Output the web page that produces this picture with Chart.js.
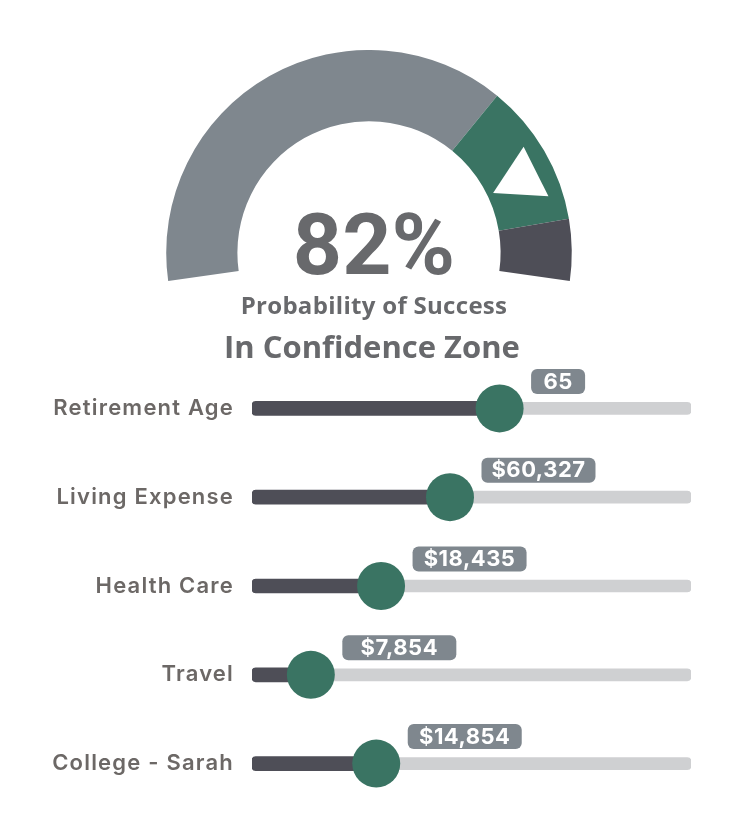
<!DOCTYPE html>
<html>
<head>
<meta charset="utf-8">
<title>Probability of Success</title>
<script src="https://cdn.jsdelivr.net/npm/chart.js@4"></script>
<style>
  html, body { margin: 0; background: #fff; }
  #page { position: relative; width: 742px; height: 837px; overflow: hidden; }
  canvas { position: absolute; }
  .gauge-chart { left: 0; top: 50px; }
  .slider-chart { left: 0; top: 364px; }
  .caption {
    position: absolute; left: 0; width: 742px; text-align: center;
    font-family: 'Open Sans', sans-serif; font-weight: 700; color: #68696c; white-space: nowrap;
  }
  #percent { left: 3px; top: 187px; font-family: Roboto, sans-serif; font-size: 86px; line-height: 116px; }
  #subtitle { left: 3px; top: 288px; font-size: 24px; line-height: 34px; letter-spacing: 0.3px; }
  #zone { left: 1px; top: 325px; font-size: 31px; line-height: 42px; }
</style>
</head>
<body>
<div id="page">
  <canvas class="gauge-chart" width="738" height="231"></canvas>
  <canvas class="slider-chart" width="742" height="444"></canvas>
  <div class="caption" id="percent"></div>
  <div class="caption" id="subtitle"></div>
  <div class="caption" id="zone"></div>
</div>
<script>
// gauge, in percent of the sweep
const zoneNames = ['Below', 'In Confidence Zone', 'Above'];
const zoneShares = [70, 21, 9];
const zoneColors = ['#7f878e', '#3a7463', '#4e4e57'];
const probability = 82;
const pointerAt = 82.7;

// sliders, position in percent of the track
const sliderNames = ['Retirement Age', 'Living Expense', 'Health Care', 'Travel', 'College - Sarah'];
const sliderPositions = [56.4, 45.1, 29.4, 13.4, 28.3];
const sliderLabels = ['65', '$60,327', '$18,435', '$7,854', '$14,854'];
const trackValues = [100, 100, 100, 100, 100];

const gaugeRotation = -98;
const gaugeSweep = 196;

document.querySelector('#percent').textContent = `${probability}%`;
document.querySelector('#subtitle').textContent = 'Probability of Success';
document.querySelector('#zone').textContent = zoneNames[1];

const pointerPlugin = {
  id: 'pointer',
  afterDatasetsDraw(chart) {
    const arc = chart.getDatasetMeta(0).data[0];
    const degrees = gaugeRotation + (pointerAt / 100) * gaugeSweep;
    const radians = (degrees * Math.PI) / 180;
    const middle = arc.outerRadius - 33;
    const { ctx } = chart;
    ctx.save();
    ctx.fillStyle = '#fff';
    Chart.helpers.drawPoint(ctx, {
      pointStyle: 'triangle', rotation: 3.4, radius: 32, borderWidth: 0,
    }, arc.x + Math.sin(radians) * middle, arc.y - Math.cos(radians) * middle);
    ctx.restore();
  },
};

// tick labels in the reference are tracked out a little
const spacingPlugin = {
  id: 'spacing',
  beforeDraw(chart) {
    chart.ctx.letterSpacing = '1.2px';
  },
};

const pillPlugin = {
  id: 'pills',
  afterDatasetsDraw(chart) {
    const { ctx, scales } = chart;
    ctx.save();
    ctx.font = '700 22px Inter, sans-serif';
    ctx.letterSpacing = '0.5px';
    ctx.textBaseline = 'middle';
    ctx.textAlign = 'center';
    sliderLabels.forEach((label, index) => {
      const knobX = scales.x.getPixelForValue(sliderPositions[index]);
      const knobY = scales.y.getPixelForValue(index);
      const width = label.length > 2 ? 114 : 54;
      const left = knobX + 31.5;
      ctx.fillStyle = '#7f878e';
      ctx.beginPath();
      ctx.roundRect(left, knobY - 39.5, width, 25, 6);
      ctx.fill();
      ctx.fillStyle = '#fff';
      ctx.fillText(label, left + width / 2, knobY - 26.5);
    });
    ctx.restore();
  },
};

const renderGauge = () => {
  // eslint-disable-next-line no-new, no-undef
  new Chart(document.querySelector('.gauge-chart'), {
    type: 'doughnut',
    data: {
      labels: zoneNames,
      datasets: [{
        data: zoneShares,
        backgroundColor: zoneColors,
        borderWidth: 0,
      }],
    },
    options: {
      responsive: false,
      animation: false,
      rotation: gaugeRotation,
      circumference: gaugeSweep,
      cutout: '64.9%',
      plugins: { legend: { display: false }, tooltip: { enabled: false } },
    },
    plugins: [pointerPlugin],
  });
};

const renderSliders = () => {
  // eslint-disable-next-line no-new, no-undef
  new Chart(document.querySelector('.slider-chart'), {
    data: {
      labels: sliderNames,
      datasets: [
        {
          type: 'line',
          indexAxis: 'y',
          data: sliderPositions,
          showLine: false,
          pointRadius: 24,
          pointBackgroundColor: '#3a7463',
          pointBorderWidth: 0,
          clip: false,
          order: 0,
        },
        {
          type: 'bar',
          data: sliderPositions,
          backgroundColor: '#4e4e57',
          barThickness: 14,
          borderRadius: 4,
          borderSkipped: false,
          grouped: false,
          order: 1,
        },
        {
          type: 'bar',
          data: trackValues,
          backgroundColor: '#cfd0d2',
          barThickness: 12,
          borderRadius: 4,
          borderSkipped: false,
          grouped: false,
          order: 2,
        },
      ],
    },
    options: {
      indexAxis: 'y',
      responsive: false,
      animation: false,
      layout: { autoPadding: false, padding: { right: 51 } },
      scales: {
        x: { display: false, min: 0, max: 100 },
        y: {
          // tick padding also pads the axis ends, which would squeeze the rows
          afterFit: (scale) => {
            scale.width = 252;
            scale.paddingTop = 0;
            scale.paddingBottom = 0;
          },
          grid: { display: false, drawTicks: false },
          border: { display: false },
          ticks: {
            padding: 18,
            color: '#6c6866',
            font: { family: 'Inter, sans-serif', size: 22, weight: 600 },
          },
        },
      },
      plugins: { legend: { display: false }, tooltip: { enabled: false } },
    },
    plugins: [spacingPlugin, pillPlugin],
  });
};

renderGauge();
renderSliders();
</script>
</body>
</html>
